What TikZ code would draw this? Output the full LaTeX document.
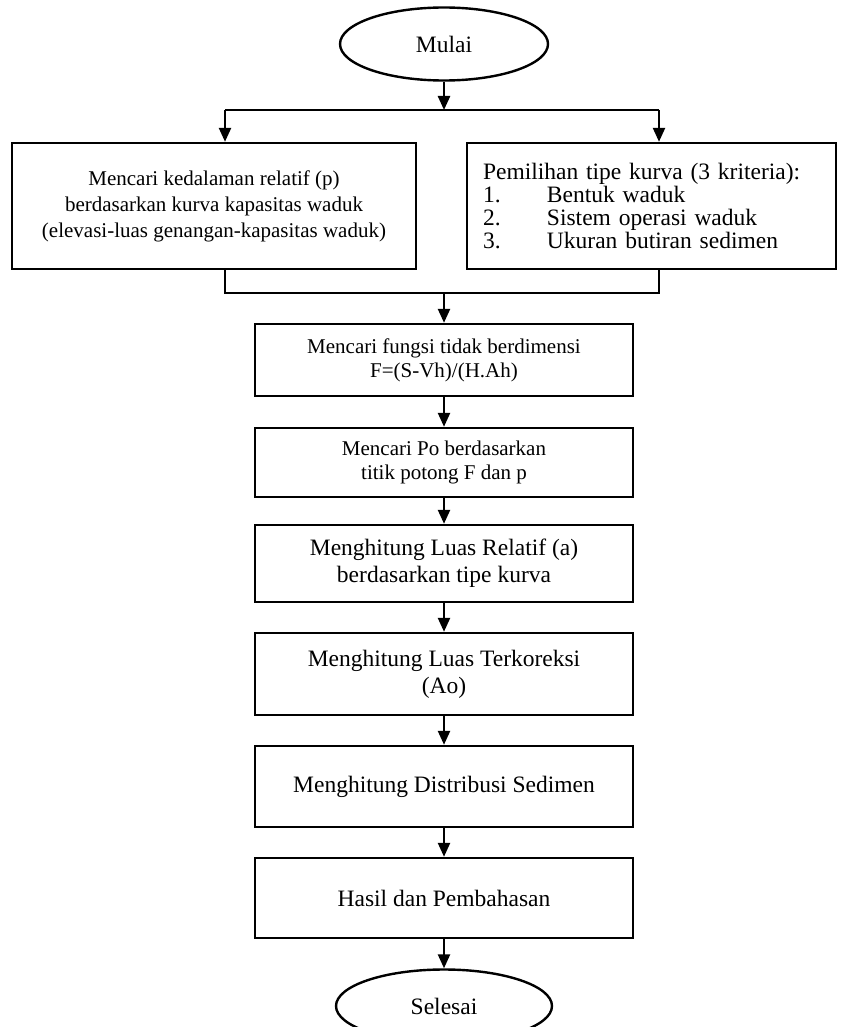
\documentclass[tikz,border=0pt]{standalone}
\usepackage{fontspec}
\setmainfont{Liberation Serif}
\usetikzlibrary{shapes.geometric,arrows.meta}

\begin{document}
\begin{tikzpicture}[
        x=1pt, y=-1pt,
        every node/.style={
            draw=black,
            line width=2.4pt,
            inner sep=0pt,
            align=center
        },
        term/.style={ellipse, minimum width=208pt, minimum height=73pt,
            font=\fontsize{23.5}{27}\selectfont},
        box/.style={rectangle, minimum width=378pt,
            font=\fontsize{23.5}{27}\selectfont},
        smallbox/.style={box, font=\fontsize{21}{24}\selectfont},
        arrow/.style={line width=2.4pt, -{Triangle[length=14pt,width=12pt]}},
        line/.style={line width=2.4pt}
    ]
    \useasboundingbox (0,0) rectangle (841,1027);

    % Simpul
    \node[term] (mulai) at (444,44) {Mulai};
    \node[rectangle, minimum width=404pt, minimum height=126pt,
        font=\fontsize{21}{26}\selectfont] (kedalaman) at (214,206)
        {Mencari kedalaman relatif (p)\\
         berdasarkan kurva kapasitas waduk\\
         (elevasi-luas genangan-kapasitas waduk)};
    \node[rectangle, align=left, text width=337pt, inner xsep=16pt,
        minimum height=126pt, font=\fontsize{23.5}{23}\selectfont] (tipe) at (651.5,206)
        {Pemilihan tipe kurva (3 kriteria):\\
         \makebox[64pt][l]{1.}Bentuk waduk\\
         \makebox[64pt][l]{2.}Sistem operasi waduk\\
         \makebox[64pt][l]{3.}Ukuran butiran sedimen};
    \node[smallbox, minimum height=72pt] (fungsi) at (444,360)
        {Mencari fungsi tidak berdimensi\\ F=(S-Vh)/(H.Ah)};
    \node[smallbox, minimum height=69pt] (po) at (444,462.5)
        {Mencari Po berdasarkan\\ titik potong F dan p};
    \node[box, minimum height=77pt] (relatif) at (444,563.5)
        {Menghitung Luas Relatif (a)\\ berdasarkan tipe kurva};
    \node[box, minimum height=82pt] (terkoreksi) at (444,674)
        {Menghitung Luas Terkoreksi\\ (Ao)};
    \node[box, minimum height=81pt] (distribusi) at (444,786.5)
        {Menghitung Distribusi Sedimen};
    \node[box, minimum height=80pt] (hasil) at (444,898)
        {Hasil dan Pembahasan};
    \node[term, minimum width=216pt] (selesai) at (444,1006) {Selesai};

    % Titik cabang
    \coordinate (cabang) at (444,110);
    \coordinate (cabangL) at (225,110);
    \coordinate (cabangR) at (659,110);
    \coordinate (gabung) at (444,293);
    \coordinate (gabungL) at (225,293);
    \coordinate (gabungR) at (659,293);

    % Garis
    \draw[arrow] (mulai) -- (cabang);
    \draw[line] (cabangL) -- (cabangR);
    \draw[arrow] (cabangL) -- (cabangL |- kedalaman.north);
    \draw[arrow] (cabangR) -- (cabangR |- tipe.north);
    \draw[line] (kedalaman.south -| gabungL) -- (gabungL) -- (gabungR)
        -- (tipe.south -| gabungR);
    \draw[arrow] (gabung) -- (fungsi);
    \draw[arrow] (fungsi) -- (po);
    \draw[arrow] (po) -- (relatif);
    \draw[arrow] (relatif) -- (terkoreksi);
    \draw[arrow] (terkoreksi) -- (distribusi);
    \draw[arrow] (distribusi) -- (hasil);
    \draw[arrow] (hasil) -- (selesai);

\end{tikzpicture}
\end{document}
